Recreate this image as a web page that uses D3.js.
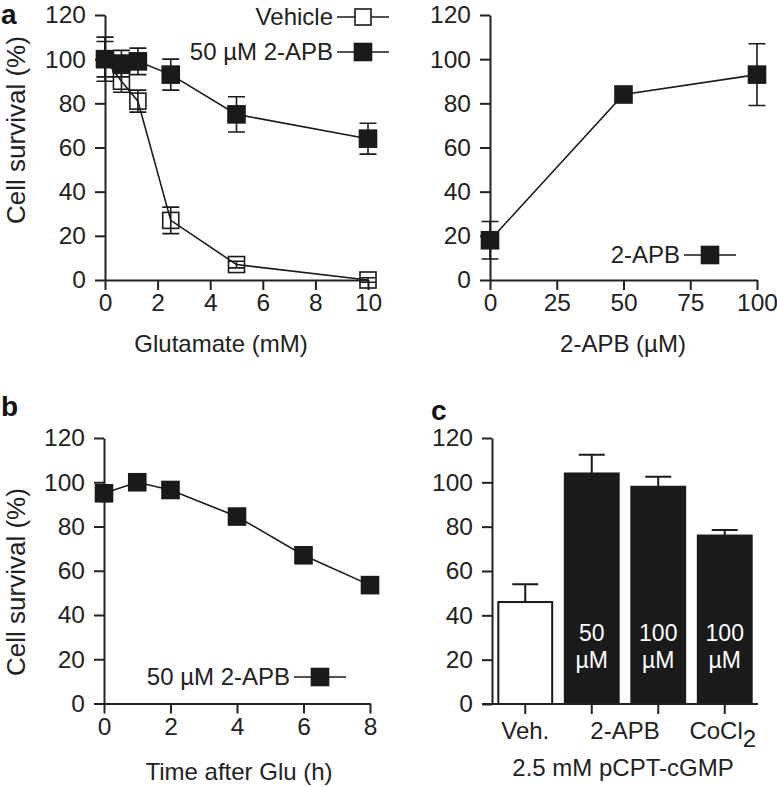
<!DOCTYPE html>
<html>
<head>
<meta charset="utf-8">
<script src="https://cdn.jsdelivr.net/npm/d3@7"></script>
<style>
  body { margin: 0; background: #fff; }
  svg { font-family: "Liberation Sans", Arial, sans-serif; }
  .axis path, .axis line { stroke: #222; stroke-width: 2; }
  .axis text { font-size: 24.5px; fill: #222; }
  .lbl { font-size: 24px; fill: #222; }
  .ylbl { font-size: 26px; fill: #222; }
  .letter { font-size: 28px; font-weight: bold; fill: #111; }
</style>
</head>
<body>
<svg id="fig" width="777" height="787"></svg>
<script>
// panel a, left: glutamate dose response
const glutamate = [0, 0.625, 1.25, 2.5, 5, 10];
const vehicleMean = [100, 90, 81, 27, 7, 0];
const vehicleSem = [10, 5, 5, 6, 1.5, 1];
const apbMean = [100, 98, 99, 93, 75, 64];
const apbSem = [8, 6, 6, 7, 8, 7];

// panel a, right: 2-APB concentration
const apbDose = [0, 50, 100];
const doseMean = [18, 84, 93];
const doseSem = [8.5, 1, 14];

// panel b: time after glutamate
const timeH = [0, 1, 2, 4, 6, 8];
const timeMean = [95, 100, 96.5, 84.5, 67, 53.5];

// panel c: bars
const barKeys = ['veh', 'apb50', 'apb100', 'co100'];
const barMean = [46, 104, 98, 76];
const barSem = [8, 8.5, 4.5, 2.5];
const barInner = [[], ['50', 'µM'], ['100', 'µM'], ['100', 'µM']];
const yTicks = [0, 20, 40, 60, 80, 100, 120];

const svg = d3.select('#fig');
const ink = '#1a1a1a';

function yAxis(g, y, x0) {
  g.append('g').attr('class', 'axis')
    .attr('transform', `translate(${x0},0)`)
    .call(d3.axisLeft(y).tickValues(yTicks).tickSize(10).tickSizeOuter(0).tickPadding(9));
}

function xAxis(g, x, y0, ticks) {
  g.append('g').attr('class', 'axis')
    .attr('transform', `translate(0,${y0})`)
    .call(d3.axisBottom(x).tickValues(ticks).tickSize(10).tickSizeOuter(0).tickPadding(4));
}

function errBars(g, pts, x, y, cap) {
  g.selectAll(null).data(pts).enter().append('path')
    .attr('d', d => {
      const cx = x(d.x), y1 = y(d.m + d.e), y2 = y(d.m - d.e);
      return `M${cx},${y1}V${y2}M${cx - cap / 2},${y1}h${cap}M${cx - cap / 2},${y2}h${cap}`;
    })
    .attr('fill', 'none').attr('stroke', ink).attr('stroke-width', 1.6);
}

function series(g, pts, x, y, filled, size) {
  g.append('path').datum(pts)
    .attr('d', d3.line().x(d => x(d.x)).y(d => y(d.m)))
    .attr('fill', 'none').attr('stroke', ink).attr('stroke-width', 1.6);
  g.selectAll(null).data(pts).enter().append('rect')
    .attr('x', d => x(d.x) - size / 2).attr('y', d => y(d.m) - size / 2)
    .attr('width', size).attr('height', size)
    .attr('fill', filled ? ink : 'none')
    .attr('stroke', ink).attr('stroke-width', 1.6);
}

function legend(g, text, xr, yc, filled) {
  g.append('text').attr('class', 'lbl').attr('x', xr).attr('y', yc)
    .attr('text-anchor', 'end').attr('dy', '0.35em').text(text);
  g.append('line').attr('x1', xr + 4).attr('x2', xr + 56).attr('y1', yc).attr('y2', yc)
    .attr('stroke', ink).attr('stroke-width', 1.6);
  const s = filled ? 17 : 16;
  g.append('rect').attr('x', xr + 30 - s / 2).attr('y', yc - s / 2).attr('width', s).attr('height', s)
    .attr('fill', filled ? ink : '#fff').attr('stroke', ink).attr('stroke-width', 1.6);
}

function yLabel(g, cx, cy) {
  g.append('text').attr('class', 'ylbl')
    .attr('transform', `translate(${cx},${cy}) rotate(-90)`)
    .attr('text-anchor', 'middle').attr('dy', '0.35em').text('Cell survival (%)');
}

// ---------- panel a left ----------
{
  const g = svg.append('g');
  const x = d3.scaleLinear().domain([0, 10]).range([105, 368]);
  const y = d3.scaleLinear().domain([0, 120]).range([280, 15]);
  yAxis(g, y, 105);
  xAxis(g, x, 280, [0, 2, 4, 6, 8, 10]);
  const veh = glutamate.map((v, i) => ({ x: v, m: vehicleMean[i], e: vehicleSem[i] }));
  const apb = glutamate.map((v, i) => ({ x: v, m: apbMean[i], e: apbSem[i] }));
  errBars(g, veh, x, y, 17);
  series(g, veh, x, y, false, 16);
  errBars(g, apb, x, y, 17);
  series(g, apb, x, y, true, 17);
  legend(g, 'Vehicle', 333, 17, false);
  legend(g, '50 µM 2-APB', 333, 52, true);
  g.append('text').attr('class', 'lbl').attr('x', 221).attr('y', 344).attr('dy', '0.35em')
    .attr('text-anchor', 'middle').text('Glutamate (mM)');
  yLabel(g, 16, 130);
  g.append('text').attr('class', 'letter').attr('x', 1).attr('y', 24).text('a');
}

// ---------- panel a right ----------
{
  const g = svg.append('g');
  const x = d3.scaleLinear().domain([0, 100]).range([490, 757]);
  const y = d3.scaleLinear().domain([0, 120]).range([280, 15]);
  yAxis(g, y, 490);
  xAxis(g, x, 280, [0, 25, 50, 75, 100]);
  const pts = apbDose.map((v, i) => ({ x: v, m: doseMean[i], e: doseSem[i] }));
  errBars(g, pts, x, y, 17);
  series(g, pts, x, y, true, 17);
  legend(g, '2-APB', 680, 255, true);
  g.append('text').attr('class', 'lbl').attr('x', 623).attr('y', 344).attr('dy', '0.35em')
    .attr('text-anchor', 'middle').text('2-APB (µM)');
}

// ---------- panel b ----------
{
  const g = svg.append('g');
  const x = d3.scaleLinear().domain([0, 8]).range([104, 370]);
  const y = d3.scaleLinear().domain([0, 120]).range([703.5, 438]);
  yAxis(g, y, 104);
  xAxis(g, x, 703.5, [0, 2, 4, 6, 8]);
  const pts = timeH.map((v, i) => ({ x: v, m: timeMean[i] }));
  series(g, pts, x, y, true, 17);
  legend(g, '50 µM 2-APB', 290, 677, true);
  g.append('text').attr('class', 'lbl').attr('x', 239).attr('y', 772).attr('dy', '0.35em')
    .attr('text-anchor', 'middle').text('Time after Glu (h)');
  yLabel(g, 16, 582);
  g.append('text').attr('class', 'letter').attr('x', 1).attr('y', 416).text('b');
}

// ---------- panel c ----------
{
  const g = svg.append('g');
  const x = d3.scaleBand().domain(barKeys).range([492, 758]).paddingInner(0.19).paddingOuter(0.095);
  const y = d3.scaleLinear().domain([0, 120]).range([704, 438]);
  const bars = barKeys.map((k, i) => ({ k, m: barMean[i], e: barSem[i], t: barInner[i] }));
  g.selectAll(null).data(bars).enter().append('rect')
    .attr('x', d => x(d.k)).attr('y', d => y(d.m))
    .attr('width', x.bandwidth()).attr('height', d => y(0) - y(d.m))
    .attr('fill', (d, i) => i === 0 ? '#fff' : ink)
    .attr('stroke', ink).attr('stroke-width', 2);
  g.selectAll(null).data(bars).enter().append('path')
    .attr('d', d => {
      const cx = x(d.k) + x.bandwidth() / 2, yt = y(d.m + d.e);
      return `M${cx},${y(d.m)}V${yt}M${cx - 13},${yt}h26`;
    })
    .attr('fill', 'none').attr('stroke', ink).attr('stroke-width', 2);
  bars.forEach(d => {
    d.t.forEach((s, j) => {
      g.append('text').attr('x', x(d.k) + x.bandwidth() / 2).attr('y', 633 + j * 27)
        .attr('dy', '0.35em').attr('text-anchor', 'middle')
        .style('font-size', '23px').attr('fill', '#fff').text(s);
    });
  });
  yAxis(g, y, 492);
  // x axis line with ticks at bar centres, custom category labels
  const xa = g.append('g').attr('class', 'axis').attr('transform', `translate(0,704)`);
  xa.append('path').attr('d', 'M482,0H758').attr('fill', 'none');
  xa.selectAll('line').data(barKeys).enter().append('line')
    .attr('x1', k => x(k) + x.bandwidth() / 2).attr('x2', k => x(k) + x.bandwidth() / 2)
    .attr('y1', 0).attr('y2', 10);
  const cx = k => x(k) + x.bandwidth() / 2;
  g.append('text').attr('class', 'lbl').attr('x', cx('veh')).attr('y', 731).attr('dy', '0.35em')
    .attr('text-anchor', 'middle').text('Veh.');
  g.append('text').attr('class', 'lbl').attr('x', (cx('apb50') + cx('apb100')) / 2).attr('y', 731).attr('dy', '0.35em')
    .attr('text-anchor', 'middle').text('2-APB');
  const co = g.append('text').attr('class', 'lbl').attr('x', cx('co100') - 2).attr('y', 731).attr('dy', '0.35em')
    .attr('text-anchor', 'middle');
  co.append('tspan').text('CoCl');
  co.append('tspan').attr('dy', '0.3em').text('2');
  g.append('text').attr('class', 'lbl').attr('x', 623).attr('y', 768).attr('dy', '0.35em')
    .attr('text-anchor', 'middle').text('2.5 mM pCPT-cGMP');
  g.append('text').attr('class', 'letter').attr('x', 431).attr('y', 420).text('c');
}
</script>
</body>
</html>
